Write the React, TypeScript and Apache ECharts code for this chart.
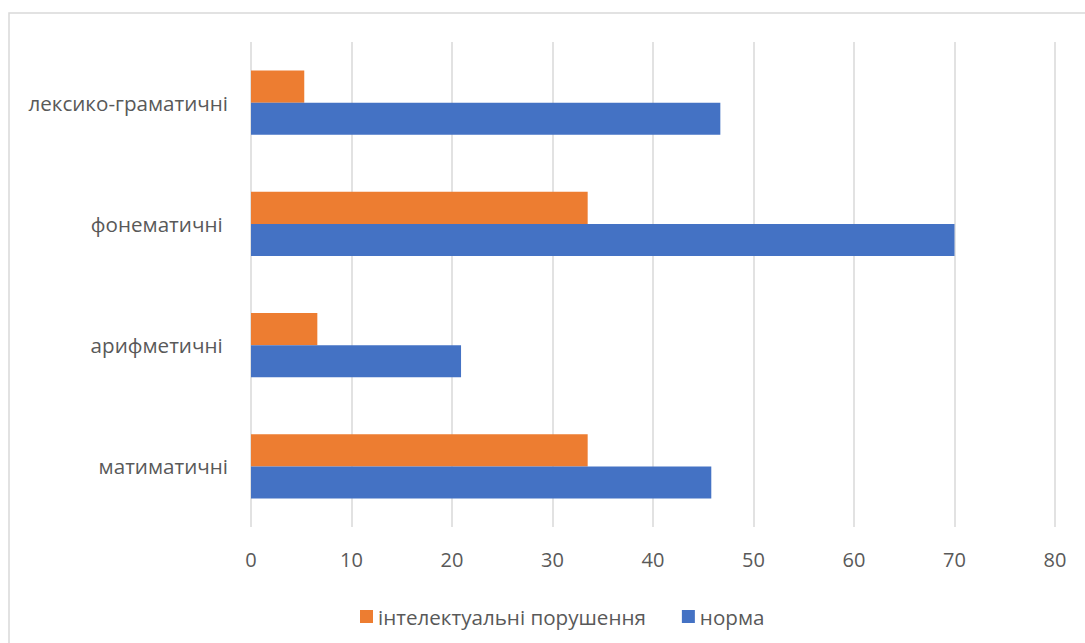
import React, { useEffect, useRef } from "react";
import * as echarts from "echarts";

const categories = ["матиматичні", "арифметичні ", "фонематичні ", "лексико-граматичні"];
const normaValues = [45.8, 20.9, 70.0, 46.7];
const impairedValues = [33.5, 6.6, 33.5, 5.3];
const seriesNames = ["інтелектуальні порушення", "норма"];
const xTicks = { min: 0, max: 80, interval: 10 };

const FONT = "'Open Sans', 'Noto Sans', sans-serif";

export default function App() {
  const ref = useRef<HTMLDivElement>(null);
  useEffect(() => {
    if (!ref.current) return;
    const chart = echarts.init(ref.current, null, { renderer: "svg" });
    chart.setOption({
      animation: false,
      backgroundColor: "#ffffff",
      graphic: [
        {
          type: "rect",
          shape: { x: 9, y: 13, width: 1100, height: 660 },
          style: { fill: "none", stroke: "#d9d9d9", lineWidth: 1.5 },
          silent: true,
        },
      ],
      grid: { left: 251, right: 30, top: 42, bottom: 116, containLabel: false },
      legend: {
        top: 601,
        left: 355,
        itemWidth: 13,
        itemHeight: 13,
        itemGap: 36,
        icon: "rect",
        data: [seriesNames[0], seriesNames[1]],
        textStyle: { fontFamily: FONT, fontSize: 20.6, color: "#595959" },
      },
      xAxis: {
        type: "value",
        min: xTicks.min,
        max: xTicks.max,
        interval: xTicks.interval,
        axisLine: { show: false },
        axisTick: { show: false },
        splitLine: { show: true, lineStyle: { color: "#d9d9d9", width: 1.5 } },
        axisLabel: { fontFamily: FONT, fontSize: 20, color: "#595959", margin: 22 },
      },
      yAxis: {
        type: "category",
        data: categories,
        axisLine: { show: false },
        axisTick: { show: false },
        axisLabel: { fontFamily: FONT, fontSize: 20.6, color: "#595959", margin: 23 },
      },
      series: [
        {
          name: seriesNames[0],
          type: "bar",
          data: impairedValues,
          itemStyle: { color: "#ed7d31" },
          barGap: "0%",
          barCategoryGap: "47%",
        },
        {
          name: seriesNames[1],
          type: "bar",
          data: normaValues,
          itemStyle: { color: "#4472c4" },
          barGap: "0%",
          barCategoryGap: "47%",
        },
      ],
    });
    return () => chart.dispose();
  }, []);
  return (
    <div
      ref={ref}
      style={{ position: "fixed", left: 0, top: 0, width: 1085, height: 643 }}
    />
  );
}
